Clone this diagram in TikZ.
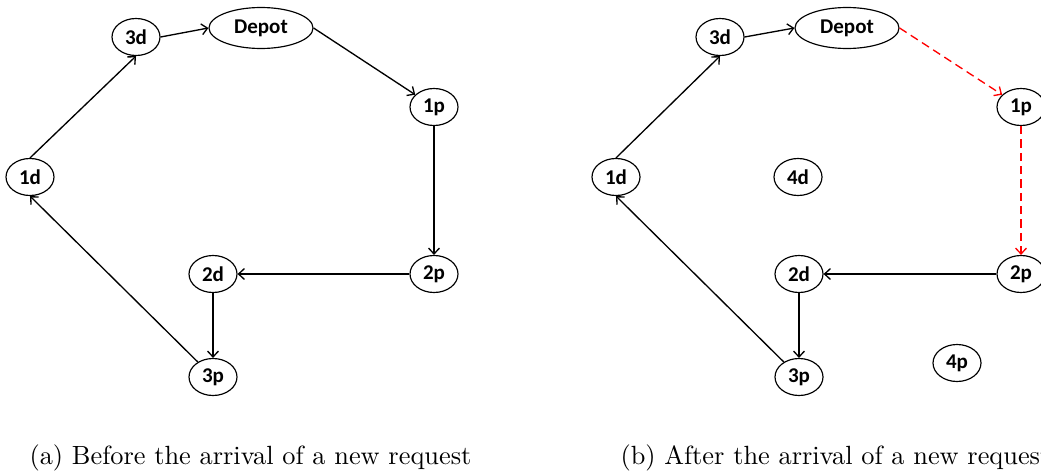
\documentclass[tikz,border=0pt]{standalone}
\usepackage{fontspec}
\newfontfamily\labelfont{Carlito}
\usetikzlibrary{shapes.geometric,arrows.meta}

\tikzset{
  visit/.style={draw,ellipse,line width=0.7pt,inner sep=0pt,
    minimum width=28.8pt,minimum height=22.2pt,
    font=\labelfont\bfseries\fontsize{12.6}{13}\selectfont},
  depot/.style={visit,minimum width=62.4pt,minimum height=24.6pt},
  leg/.style={line width=0.8pt,-{Straight Barb[length=3.5pt,width=6.5pt]}},
  newleg/.style={leg,red,dash pattern=on 5pt off 3pt},
  caption/.style={anchor=west,inner sep=0pt,font=\normalsize,scale=1.58,transform shape}
}

\begin{document}
\begin{tikzpicture}[x=0.6pt,y=-0.6pt]
\useasboundingbox (0,0) rectangle (1041,474);
\clip (0,0) rectangle (1041,474);

% route before the new request
\begin{scope}
\node[depot] (a-depot) at (261,28) {Depot};
\node[visit] (a-3d) at (136,37) {3d};
\node[visit] (a-1p) at (434,107) {1p};
\node[visit] (a-1d) at (30,177) {1d};
\node[visit] (a-2d) at (213,274) {2d};
\node[visit] (a-2p) at (434,274) {2p};
\node[visit] (a-3p) at (213,377) {3p};
\draw[leg] (a-3d.east) -- (a-depot.west);
\draw[leg] (a-depot.east) -- (a-1p);
\draw[leg] (a-1p) -- (a-2p);
\draw[leg] (a-2p) -- (a-2d);
\draw[leg] (a-2d) -- (a-3p);
\draw[leg] (a-3p) -- (a-1d.south);
\draw[leg] (a-1d.north) -- (a-3d.south);
\node[caption] (a-cap) at (29,458) {(a) Before the arrival of a new request};
\end{scope}

% route after request 4 arrives
\begin{scope}[shift={(586,0)}]
\node[depot] (b-depot) at (261,28) {Depot};
\node[visit] (b-3d) at (134,37) {3d};
\node[visit] (b-1p) at (435,107) {1p};
\node[visit] (b-1d) at (30,177) {1d};
\node[visit] (b-4d) at (212,177) {4d};
\node[visit] (b-2d) at (213,274) {2d};
\node[visit] (b-2p) at (435,274) {2p};
\node[visit] (b-3p) at (213,377) {3p};
\node[visit] (b-4p) at (371,363) {4p};
\draw[leg] (b-3d.east) -- (b-depot.west);
\draw[newleg] (b-depot.east) -- (b-1p);
\draw[newleg] (b-1p) -- (b-2p);
\draw[leg] (b-2p) -- (b-2d);
\draw[leg] (b-2d) -- (b-3p);
\draw[leg] (b-3p) -- (b-1d.south);
\draw[leg] (b-1d.north) -- (b-3d.south);
\node[caption] (b-cap) at (34,458) {(b) After the arrival of a new request};
\end{scope}
\end{tikzpicture}
\end{document}
